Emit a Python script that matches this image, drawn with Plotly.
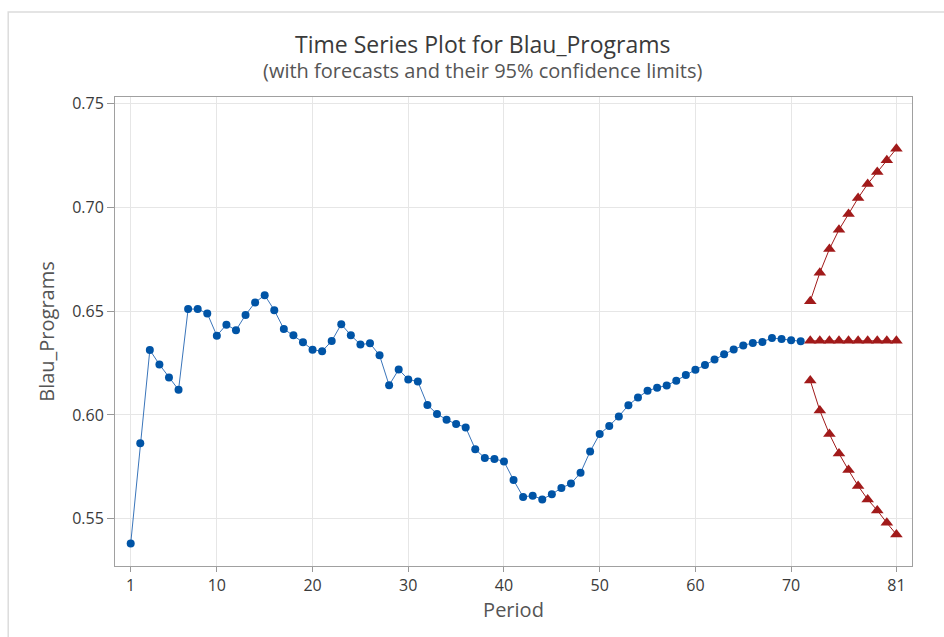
import plotly.graph_objects as go

# Observed series, periods 1..71
period_obs = list(range(1, 72))
blau_obs = [
    0.5380, 0.5864, 0.6313, 0.6243, 0.6180, 0.6121, 0.6510, 0.6510, 0.6489, 0.6382,
    0.6435, 0.6408, 0.6482, 0.6542, 0.6577, 0.6505, 0.6414, 0.6384, 0.6350, 0.6314,
    0.6307, 0.6356, 0.6437, 0.6384, 0.6339, 0.6345, 0.6287, 0.6143, 0.6219, 0.6171,
    0.6161, 0.6048, 0.6005, 0.5977, 0.5956, 0.5940, 0.5835, 0.5792, 0.5788, 0.5776,
    0.5686, 0.5605, 0.5611, 0.5593, 0.5618, 0.5648, 0.5669, 0.5721, 0.5824, 0.5908,
    0.5947, 0.5993, 0.6047, 0.6084, 0.6116, 0.6131, 0.6142, 0.6165, 0.6192, 0.6218,
    0.6240, 0.6267, 0.6292, 0.6315, 0.6335, 0.6347, 0.6352, 0.6371, 0.6366, 0.6360,
    0.6355,
]

# Forecasts for periods 72..81 with 95% limits
period_fc = list(range(72, 82))
forecast = [0.6357] * 10
upper_95 = [0.6548, 0.6685, 0.6799, 0.6892, 0.6968, 0.7045, 0.7113, 0.7171, 0.7227, 0.7283]
lower_95 = [0.6166, 0.6021, 0.5908, 0.5814, 0.5734, 0.5658, 0.5593, 0.5540, 0.5480, 0.5424]

x_ticks = [1, 10, 20, 30, 40, 50, 60, 70, 81]
y_ticks = [0.55, 0.60, 0.65, 0.70, 0.75]
y_ticktext = ["0.55", "0.60", "0.65", "0.70", "0.75"]

BLUE = "#0054A6"
BLUE_LINE = "#3A75BA"
RED = "#A11A1A"
FONT = "Open Sans"
TEXT = "#3a3a3a"

fig = go.Figure()

fig.add_trace(go.Scatter(
    x=period_obs, y=blau_obs, mode="lines+markers",
    line=dict(color=BLUE_LINE, width=1),
    marker=dict(symbol="circle", size=8, color=BLUE),
    showlegend=False, hoverinfo="x+y",
))

for ys in (upper_95, forecast, lower_95):
    fig.add_trace(go.Scatter(
        x=period_fc, y=ys, mode="lines+markers",
        line=dict(color=RED, width=1),
        marker=dict(symbol="triangle-up", size=11, color=RED),
        showlegend=False, hoverinfo="x+y",
    ))

# Panel border around the whole chart card
fig.add_shape(type="rect", xref="paper", yref="paper",
              x0=-0.134, x1=1.6, y0=-1.0, y1=1.181,
              line=dict(color="#dcdcdc", width=1.5), fillcolor="rgba(0,0,0,0)",
              layer="below")

fig.add_annotation(text="Time Series Plot for Blau_Programs", xref="paper", yref="paper",
                   x=0.4616, y=1.113, xanchor="center", yanchor="middle", showarrow=False,
                   font=dict(family=FONT, size=23, color=TEXT))
fig.add_annotation(text="(with forecasts and their 95% confidence limits)", xref="paper", yref="paper",
                   x=0.4616, y=1.056, xanchor="center", yanchor="middle", showarrow=False,
                   font=dict(family=FONT, size=20, color="#555555"))

fig.update_layout(
    width=944, height=637,
    margin=dict(l=115, r=32, t=97, b=71),
    paper_bgcolor="white", plot_bgcolor="white",
    font=dict(family=FONT, color=TEXT),
)

fig.update_xaxes(
    range=[-0.64, 82.63], tickmode="array", tickvals=x_ticks,
    ticks="outside", ticklen=5, tickcolor="#999999",
    tickfont=dict(size=16, color=TEXT),
    showgrid=True, gridcolor="#e6e6e6", gridwidth=1, zeroline=False,
    showline=True, linecolor="#a0a0a0", linewidth=1, mirror=True,
    title=dict(text="Period", font=dict(size=20, color="#555555"), standoff=6),
)
fig.update_yaxes(
    range=[0.5272, 0.7532], tickmode="array", tickvals=y_ticks, ticktext=y_ticktext,
    ticks="outside", ticklen=7, tickcolor="#999999",
    tickfont=dict(size=16, color=TEXT),
    showgrid=True, gridcolor="#e6e6e6", gridwidth=1, zeroline=False,
    showline=True, linecolor="#a0a0a0", linewidth=1, mirror=True,
    title=dict(text="Blau_Programs", font=dict(size=20, color="#555555"), standoff=12),
)

fig.write_html("out.html")
